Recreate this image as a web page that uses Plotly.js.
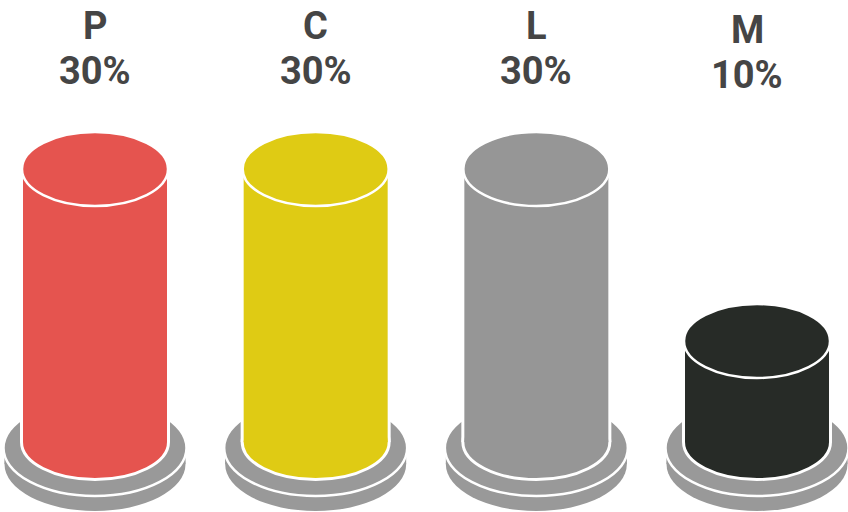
<!DOCTYPE html>
<html>
<head>
<meta charset="utf-8">
<script src="https://cdn.plot.ly/plotly-3.0.1.min.js"></script>
<style>html,body{margin:0;padding:0;background:#fff}#c{width:848px;height:512px}</style>
</head>
<body>
<div id="c"></div>
<script>
const categories = ['P', 'C', 'L', 'M'];
const values = [30, 30, 30, 10];
const colors = ['#e5544f', '#dfcb14', '#969696', '#272b27'];

const W = 848, H = 512;
const pxPerCat = 220.67, pxPerUnit = 8.6;
const x0px = 95, zeroPx = 427;
const positions = categories.map((_, i) => i);
const dx = p => p / pxPerCat, dy = p => p / pxPerUnit;
const yAt = px => (zeroPx - px) / pxPerUnit;

const bodyRx = dx(72), capRy = dy(36);
const base = yAt(442);
const plateRx = dx(90.5), plateRy = dy(47);
const plateTop = yAt(448), plateBottom = yAt(464);
const plateColor = '#999999';

function ellipse(cx, cy, rx, ry, fill, lineColor, lineWidth, layer) {
  return {type: 'circle', xref: 'x', yref: 'y', x0: cx - rx, x1: cx + rx, y0: cy - ry, y1: cy + ry,
    fillcolor: fill, line: {color: lineColor, width: lineWidth}, layer: layer};
}

const shapes = [];
positions.forEach((p, i) => {
  const hw = bodyRx + dx(3);
  shapes.push(ellipse(p, plateBottom, plateRx, plateRy, plateColor, plateColor, 0, 'below'));
  shapes.push({type: 'rect', xref: 'x', yref: 'y', x0: p - plateRx, x1: p + plateRx, y0: plateBottom, y1: plateTop,
    fillcolor: plateColor, line: {width: 0}, layer: 'below'});
  shapes.push(ellipse(p, plateTop, plateRx + dx(1), plateRy + dy(1), plateColor, '#ffffff', 2.5, 'below'));
  shapes.push({type: 'rect', xref: 'x', yref: 'y', x0: p - hw, x1: p + hw, y0: base, y1: values[i],
    fillcolor: '#ffffff', line: {width: 0}, layer: 'below'});
  shapes.push(ellipse(p, base, bodyRx + dx(1.5), capRy + dy(1.5), colors[i], '#ffffff', 3, 'below'));
  shapes.push(ellipse(p, values[i], bodyRx + dx(1), capRy + dy(1), colors[i], '#ffffff', 2.5, 'above'));
});

const textFont = {family: 'Roboto, sans-serif', size: 38, color: '#454545', weight: 700};
const annotations = [];
positions.forEach((p, i) => {
  const shift = categories[i] === 'M' ? 4 : 0;
  const xShift = categories[i] === 'M' ? -10 : 0;
  [[categories[i], 26], [values[i] + '%', 71]].forEach(([t, py]) => {
    annotations.push({x: p + dx(xShift), y: yAt(py + shift), xref: 'x', yref: 'y', text: '<b>' + t + '</b>',
      showarrow: false, xanchor: 'center', yanchor: 'middle', font: textFont});
  });
});

Plotly.newPlot('c', [{
  type: 'bar', x: positions, y: values.map(v => v - base), base: base,
  width: 2 * bodyRx, marker: {color: colors, line: {width: 0}}, hoverinfo: 'skip'
}], {
  width: W, height: H, margin: {l: 0, r: 0, t: 0, b: 0}, showlegend: false,
  paper_bgcolor: '#fff', plot_bgcolor: '#fff',
  xaxis: {range: [-x0px / pxPerCat, (W - x0px) / pxPerCat], visible: false, fixedrange: true},
  yaxis: {range: [yAt(H), yAt(0)], visible: false, fixedrange: true},
  shapes: shapes, annotations: annotations
}, {displayModeBar: false, staticPlot: true});
</script>
</body>
</html>
